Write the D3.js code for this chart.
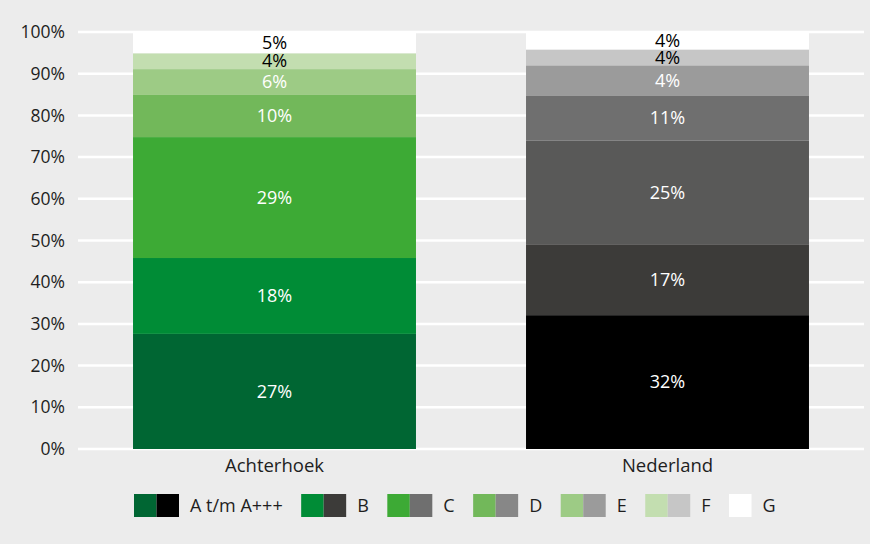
<!DOCTYPE html>
<html>
<head>
<meta charset="utf-8">
<script src="https://cdn.jsdelivr.net/npm/d3@7"></script>
<style>
  html, body { margin: 0; padding: 0; background: #ececec; }
  svg { display: block; font-family: "Open Sans", "Noto Sans", sans-serif; }
</style>
</head>
<body>
<svg id="chart" width="870" height="544"></svg>
<script>
// ---- data ----
const regions = ["Achterhoek", "Nederland"];
const classes = ["A t/m A+++", "B", "C", "D", "E", "F", "G"];
const achterhoekValues = [27.6, 18.2, 29.0, 10.1, 6.2, 3.8, 5.1];
const nederlandValues  = [32.1, 17.0, 24.9, 10.8, 7.2, 3.8, 4.2];
const achterhoekLabels = ["27%", "18%", "29%", "10%", "6%", "4%", "5%"];
const nederlandLabels  = ["32%", "17%", "25%", "11%", "4%", "4%", "4%"];
const yTicks = [0, 10, 20, 30, 40, 50, 60, 70, 80, 90, 100];

// ---- styles ----
const greenColors = ["#006633", "#008c36", "#3daa35", "#72b85a", "#9dcb85", "#c3deb0", "#ffffff"];
const greyColorsBar = ["#000000", "#3c3b39", "#595958", "#6f6f6f", "#9b9b9b", "#c6c6c6", "#ffffff"];
const greyColorsLegend = ["#000000", "#3c3b39", "#6f6f6f", "#878787", "#9b9b9b", "#c6c6c6", "#ffffff"];
const labelDark = [false, false, false, false, false, true, true];

const svg = d3.select("#chart");
const plot = { left: 78, right: 864, top: 32, bottom: 449 };

const x = d3.scaleBand().domain(regions).range([plot.left, plot.right]).paddingInner(0.28).paddingOuter(0.14);
const y = d3.scaleLinear().domain([0, 100]).range([plot.bottom, plot.top]);

// gridlines
svg.append("g").selectAll("line").data(yTicks).join("line")
  .attr("x1", plot.left).attr("x2", plot.right)
  .attr("y1", d => y(d)).attr("y2", d => y(d))
  .attr("stroke", "#ffffff").attr("stroke-width", 2.5);

// y axis labels
const yAxis = d3.axisLeft(y).tickValues(yTicks).tickFormat(d => d + "%").tickSize(0).tickPadding(13);
const ya = svg.append("g").attr("transform", `translate(${plot.left},0)`).call(yAxis);
ya.select(".domain").remove();
ya.selectAll("text").attr("font-size", 17.5).attr("fill", "#1e1e1e").attr("font-family", "'Open Sans', sans-serif");

// stacked bars
const seriesData = [
  { region: "Achterhoek", values: achterhoekValues, labels: achterhoekLabels, colors: greenColors },
  { region: "Nederland", values: nederlandValues, labels: nederlandLabels, colors: greyColorsBar }
];

seriesData.forEach(s => {
  let acc = 0;
  const segs = s.values.map((v, i) => {
    const seg = { y0: acc, y1: acc + v, label: s.labels[i], color: s.colors[i], dark: labelDark[i] };
    acc += v;
    return seg;
  });
  const g = svg.append("g");
  g.selectAll("rect").data(segs).join("rect")
    .attr("x", x(s.region)).attr("width", x.bandwidth())
    .attr("y", d => y(d.y1)).attr("height", d => y(d.y0) - y(d.y1))
    .attr("fill", d => d.color);
  g.selectAll("text").data(segs).join("text")
    .attr("x", x(s.region) + x.bandwidth() / 2)
    .attr("y", d => (y(d.y0) + y(d.y1)) / 2)
    .attr("dy", "0.35em")
    .attr("text-anchor", "middle")
    .attr("font-size", 18)
    .attr("fill", d => d.dark ? "#000000" : "#ffffff")
    .text(d => d.label);
});

// x axis labels
const xAxis = d3.axisBottom(x).tickSize(0).tickPadding(10);
const xa = svg.append("g").attr("transform", `translate(0,${plot.bottom})`).call(xAxis);
xa.select(".domain").remove();
xa.selectAll("text").attr("font-size", 18.5).attr("fill", "#1e1e1e").attr("font-family", "'Open Sans', sans-serif");

// legend
const legend = svg.append("g").attr("transform", "translate(134,0)");
const sw = 22.5, sh = 23, legY = 494;
let cx = 0;
classes.forEach((c, i) => {
  const item = legend.append("g").attr("transform", `translate(${cx},0)`);
  let w = 0;
  if (i < classes.length - 1) {
    item.append("rect").attr("x", 0).attr("y", legY).attr("width", sw).attr("height", sh).attr("fill", greenColors[i]);
    item.append("rect").attr("x", sw).attr("y", legY).attr("width", sw).attr("height", sh).attr("fill", greyColorsLegend[i]);
    w = 2 * sw;
  } else {
    item.append("rect").attr("x", 0).attr("y", legY).attr("width", sw).attr("height", sh).attr("fill", greenColors[i]);
    w = sw;
  }
  const t = item.append("text").attr("x", w + 11).attr("y", legY + sh / 2).attr("dy", "0.35em")
    .attr("font-size", 18).attr("fill", "#1e1e1e").text(c);
  const tw = t.node().getComputedTextLength();
  cx += w + 11 + tw + 18.5;
});
</script>
</body>
</html>
